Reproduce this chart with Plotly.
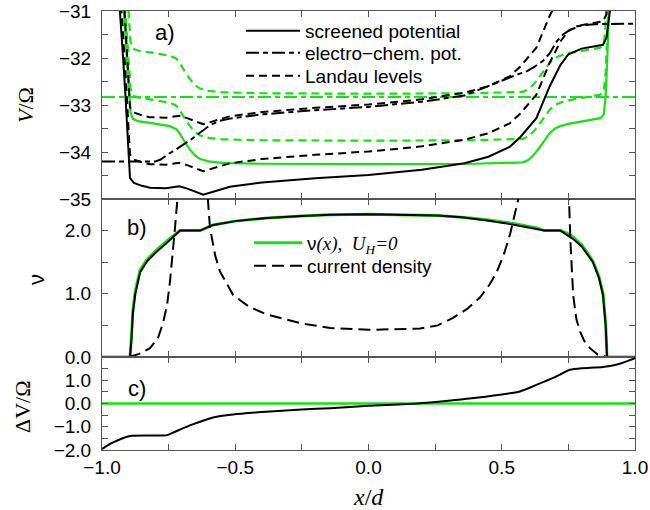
import plotly.graph_objects as go
from plotly.subplots import make_subplots

# ---------------- panel a) : potentials (black: with Hall voltage, green: U_H = 0)
x_Vb = [-0.945, -0.932, -0.922, -0.912, -0.903, -0.895, -0.88, -0.85, -0.82, -0.76, -0.71, -0.68,
        -0.62, -0.57, -0.52, -0.4, -0.2, 0.0, 0.2, 0.36, 0.45, 0.53, 0.57, 0.63, 0.68, 0.72, 0.75,
        0.8, 0.88, 0.893, 0.9, 0.906, 0.915]
V_black = [-30.0, -31.0, -31.9, -32.8, -33.9, -34.55, -34.66, -34.72, -34.76, -34.77, -34.73, -34.78,
           -34.91, -34.82, -34.74, -34.65, -34.56, -34.49, -34.38, -34.24, -34.1, -33.89, -33.68, -33.28,
           -32.6, -32.15, -31.92, -31.8, -31.72, -31.57, -31.3, -31.0, -30.3]
LL0_black = [-29.5, -30.5, -31.4, -32.3, -33.4, -34.05, -34.16, -34.22, -34.26, -34.27, -34.23, -34.28,
             -34.41, -34.32, -34.24, -34.15, -34.06, -33.99, -33.88, -33.74, -33.6, -33.39, -33.18, -32.78,
             -32.1, -31.65, -31.42, -31.3, -31.22, -31.07, -30.8, -30.5, -29.8]
LL1_black = [-28.5, -29.5, -30.4, -31.3, -32.4, -33.05, -33.16, -33.22, -33.26, -33.27, -33.23, -33.28,
             -33.41, -33.32, -33.24, -33.15, -33.06, -32.99, -32.88, -32.74, -32.6, -32.39, -32.18, -31.78,
             -31.1, -30.65, -30.42, -30.3, -30.22, -30.07, -29.8, -29.5, -28.8]

x_ecb = [-1.0, -0.8, -0.78, -0.756, -0.726, -0.696, -0.67, -0.644, -0.62, -0.595, -0.56, -0.52, -0.4,
         -0.2, 0.0, 0.2, 0.36, 0.49, 0.55, 0.595, 0.625, 0.655, 0.68, 0.707, 0.73, 0.756, 0.78, 0.805,
         0.85, 1.0]
ec_black = [-34.2, -34.2, -34.16, -34.06, -33.96, -33.85, -33.75, -33.64, -33.53, -33.43, -33.34, -33.29,
            -33.2, -33.11, -33.04, -32.93, -32.8, -32.5, -32.37, -32.28, -32.18, -32.06, -31.9, -31.64,
            -31.5, -31.4, -31.33, -31.3, -31.28, -31.27]

x_Vg = [-0.93, -0.918, -0.908, -0.9, -0.893, -0.884, -0.86, -0.82, -0.745, -0.72, -0.707, -0.69, -0.67,
        -0.65, -0.632, -0.6, -0.55, -0.4, 0.0, 0.4, 0.58, 0.6, 0.62, 0.64, 0.66, 0.68, 0.7, 0.72, 0.75,
        0.8, 0.87, 0.883, 0.89, 0.896, 0.902, 0.91]
V_green = [-30.0, -31.0, -32.0, -32.7, -33.15, -33.3, -33.35, -33.38, -33.45, -33.52, -33.62, -33.78,
           -33.95, -34.08, -34.15, -34.2, -34.23, -34.25, -34.26, -34.25, -34.22, -34.17, -34.06, -33.92,
           -33.77, -33.6, -33.5, -33.45, -33.4, -33.35, -33.28, -33.2, -32.8, -32.0, -31.0, -29.8]
LL0_green = [-29.5, -30.5, -31.5, -32.2, -32.65, -32.8, -32.85, -32.88, -32.95, -33.02, -33.12, -33.28,
             -33.45, -33.58, -33.65, -33.7, -33.73, -33.75, -33.76, -33.75, -33.72, -33.67, -33.56, -33.42,
             -33.27, -33.1, -33.0, -32.95, -32.9, -32.85, -32.78, -32.7, -32.3, -31.5, -30.5, -29.3]
LL1_green = [-28.5, -29.5, -30.5, -31.2, -31.65, -31.8, -31.85, -31.88, -31.95, -32.02, -32.12, -32.28,
             -32.45, -32.58, -32.65, -32.7, -32.73, -32.75, -32.76, -32.75, -32.72, -32.67, -32.56, -32.42,
             -32.27, -32.1, -32.0, -31.95, -31.9, -31.85, -31.78, -31.7, -31.3, -30.5, -29.5, -28.3]
x_ecg = [-1.0, 1.0]
ec_green = [-32.83, -32.83]

# ---------------- panel b) : filling factor and current density
x_nu = [-1.0, -0.895, -0.89, -0.884, -0.875, -0.857, -0.83, -0.794, -0.75, -0.72, -0.707, -0.632, -0.615,
        -0.583, -0.5, -0.38, -0.25, -0.144, 0.0, 0.257, 0.35, 0.445, 0.55, 0.632, 0.66, 0.72, 0.745,
        0.767, 0.8, 0.842, 0.865, 0.88, 0.89, 0.895, 1.0]
nu_green = [0, 0, 0.3, 0.75, 1.05, 1.38, 1.55, 1.7, 1.86, 1.96, 2.0, 2.0, 2.03, 2.09, 2.15, 2.2, 2.23,
            2.25, 2.26, 2.24, 2.21, 2.17, 2.11, 2.04, 2.0, 2.0, 1.96, 1.9, 1.78, 1.52, 1.27, 1.0, 0.52, 0, 0]
nu_black = [0, 0, 0.25, 0.7, 1.0, 1.34, 1.52, 1.67, 1.83, 1.94, 2.0, 2.0, 2.03, 2.09, 2.15, 2.2, 2.23,
            2.25, 2.26, 2.24, 2.21, 2.16, 2.09, 2.02, 2.0, 2.0, 1.93, 1.87, 1.75, 1.5, 1.25, 0.98, 0.5, 0, 0]

x_j = [-0.9, -0.86, -0.82, -0.79, -0.77, -0.755, -0.745, -0.735, -0.726, -0.715, -0.70, -0.62, -0.606,
       -0.595, -0.575, -0.557, -0.508, -0.45, -0.38, -0.25, -0.144, 0.0, 0.193, 0.26, 0.317, 0.37, 0.418,
       0.455, 0.482, 0.51, 0.531, 0.55, 0.565, 0.58, 0.74, 0.752, 0.758, 0.768, 0.78, 0.794, 0.81, 0.831,
       0.86, 0.895]
j_dens = [0, 0.05, 0.14, 0.3, 0.55, 0.85, 1.19, 1.6, 2.05, 2.6, 3.5, 3.5, 2.6, 2.05, 1.6, 1.35, 0.98, 0.8,
          0.67, 0.53, 0.46, 0.43, 0.45, 0.5, 0.62, 0.76, 0.94, 1.15, 1.35, 1.65, 1.94, 2.25, 2.55, 3.5, 3.5,
          2.55, 1.8, 0.98, 0.6, 0.4, 0.25, 0.14, 0.04, 0]

# ---------------- panel c) : Hall potential difference
x_dV = [-1.0, -0.97, -0.94, -0.895, -0.8, -0.756, -0.733, -0.66, -0.583, -0.508, -0.4, -0.25, -0.144,
        0.0, 0.182, 0.3, 0.445, 0.568, 0.63, 0.693, 0.756, 0.8, 0.88, 0.94, 1.0]
dV_black = [-1.96, -1.74, -1.58, -1.4, -1.38, -1.36, -1.25, -0.9, -0.6, -0.47, -0.37, -0.26, -0.2, -0.1,
            0.0, 0.12, 0.3, 0.52, 0.8, 1.1, 1.45, 1.52, 1.57, 1.7, 1.95]
x_dVg = [-1.0, 1.0]
dV_green = [0.0, 0.0]

# ---------------- tick labels
x_ticks = [-1.0, -0.75, -0.5, -0.25, 0.0, 0.25, 0.5, 0.75, 1.0]
x_ticktext = ["\u22121.0", " ", "\u22120.5", " ", "0.0", " ", "0.5", " ", "1.0"]
ya_ticks = [-35, -34.5, -34, -33.5, -33, -32.5, -32, -31.5, -31]
ya_ticktext = ["\u221235", " ", "\u221234", " ", "\u221233", " ", "\u221232", " ", "\u221231"]
yb_ticks = [0, 0.5, 1.0, 1.5, 2.0, 2.5]
yb_ticktext = ["0.0", " ", "1.0", " ", "2.0", " "]
yc_ticks = [-2.0, -1.5, -1.0, -0.5, 0.0, 0.5, 1.0, 1.5, 2.0]
yc_ticktext = ["\u22122.0", " ", "\u22121.0", " ", "0.0", " ", "1.0", " ", " "]

GREEN = "#16e016"
BLACK = "#000000"
SANS = "Liberation Sans, Arial, sans-serif"
SERIF = "Liberation Serif, Times New Roman, serif"

DASH_EC = "13px,4px,5px,4px"
DASH_LL = "8px,5px"
DASH_J = "12px,6px"

fig = make_subplots(rows=3, cols=1, shared_xaxes=True, vertical_spacing=0)

# panel a: green first
for yy in (LL0_green, LL1_green):
    fig.add_trace(go.Scatter(x=x_Vg, y=yy, mode="lines", line=dict(color=GREEN, width=2.2, dash=DASH_LL),
                             showlegend=False), row=1, col=1)
fig.add_trace(go.Scatter(x=x_ecg, y=ec_green, mode="lines", line=dict(color=GREEN, width=2.2, dash=DASH_EC),
                         showlegend=False), row=1, col=1)
fig.add_trace(go.Scatter(x=x_Vg, y=V_green, mode="lines", line=dict(color=GREEN, width=2.2),
                         showlegend=False), row=1, col=1)
# black
fig.add_trace(go.Scatter(x=x_Vb, y=V_black, mode="lines", line=dict(color=BLACK, width=2),
                         name="screened potential", legend="legend"), row=1, col=1)
fig.add_trace(go.Scatter(x=x_ecb, y=ec_black, mode="lines", line=dict(color=BLACK, width=2, dash=DASH_EC),
                         name="electro\u2212chem. pot.", legend="legend3"), row=1, col=1)
fig.add_trace(go.Scatter(x=x_Vb, y=LL0_black, mode="lines", line=dict(color=BLACK, width=2, dash=DASH_LL),
                         name="Landau levels", legend="legend4"), row=1, col=1)
fig.add_trace(go.Scatter(x=x_Vb, y=LL1_black, mode="lines", line=dict(color=BLACK, width=2, dash=DASH_LL),
                         showlegend=False), row=1, col=1)

# panel b
fig.add_trace(go.Scatter(x=x_nu, y=nu_green, mode="lines", line=dict(color=GREEN, width=3),
                         name="\u03bd<span style='font-family:Liberation Serif'><i>(x)</i>,  <i>U<sub>H</sub>=0</i></span>",
                         legend="legend2"), row=2, col=1)
fig.add_trace(go.Scatter(x=x_nu, y=nu_black, mode="lines", line=dict(color=BLACK, width=2),
                         showlegend=False), row=2, col=1)
fig.add_trace(go.Scatter(x=x_j, y=j_dens, mode="lines", line=dict(color=BLACK, width=2, dash=DASH_J),
                         name="current density", legend="legend5"), row=2, col=1)

# panel c
fig.add_trace(go.Scatter(x=x_dVg, y=dV_green, mode="lines", line=dict(color=GREEN, width=2.5),
                         showlegend=False), row=3, col=1)
fig.add_trace(go.Scatter(x=x_dV, y=dV_black, mode="lines",
                         line=dict(color=BLACK, width=2, shape="spline", smoothing=0.6),
                         showlegend=False), row=3, col=1)

# layout geometry given in window pixels (page margin removed below)
W, HT = 650, 510
X0, X1, Y0, Y1 = 102, 635, 11, 450          # plot area in window px
L, R, T, B = X0, W - X1, Y0, HT - Y1
H = HT - T - B
d_c = (Y1 - 357) / H
d_b = (Y1 - 199) / H

axis_common = dict(showline=True, linecolor="#555", linewidth=1, mirror="allticks", ticks="inside",
                   ticklen=6, tickwidth=1, tickcolor="#555", showgrid=False, zeroline=False,
                   automargin=False, tickfont=dict(family=SANS, size=19, color="black"))

for i in (1, 2, 3):
    fig.update_xaxes(range=[-1.0, 1.0], tickmode="array", tickvals=x_ticks, ticktext=x_ticktext,
                     **axis_common, row=i, col=1)
fig.update_xaxes(showticklabels=True, row=3, col=1)

fig.update_yaxes(range=[-35, -31], tickmode="array", tickvals=ya_ticks, ticktext=ya_ticktext,
                 domain=[d_b, 1.0], ticklabelstandoff=6, **axis_common, row=1, col=1)
fig.update_yaxes(range=[0, 2.5], tickmode="array", tickvals=yb_ticks, ticktext=yb_ticktext,
                 domain=[d_c, d_b], ticklabelstandoff=6, **axis_common, row=2, col=1)
fig.update_yaxes(range=[-2, 2], tickmode="array", tickvals=yc_ticks, ticktext=yc_ticktext,
                 domain=[0, d_c], ticklabelstandoff=6, **axis_common, row=3, col=1)

def px2x(px):
    return (px - X0) / (X1 - X0)

def py2y(py):
    return (Y1 - py) / (Y1 - Y0)

annots = [
    dict(text="a)", x=px2x(165), y=py2y(33), font=dict(family=SANS, size=22)),
    dict(text="b)", x=px2x(137), y=py2y(228), font=dict(family=SANS, size=22)),
    dict(text="c)", x=px2x(137), y=py2y(388), font=dict(family=SANS, size=22)),
    dict(text="<i>V</i>/\u03a9", x=px2x(25), y=py2y(105), textangle=-90, font=dict(family=SERIF, size=22)),
    dict(text="\u03bd", x=px2x(36), y=py2y(280), textangle=-90, font=dict(family=SANS, size=22)),
    dict(text="\u0394V/\u03a9", x=px2x(22), y=py2y(406), textangle=-90, font=dict(family=SERIF, size=22)),
    dict(text="<i>x</i>/<i>d</i>", x=px2x(368), y=py2y(497), font=dict(family=SERIF, size=24)),
]
for a in annots:
    a.update(xref="paper", yref="paper", showarrow=False, xanchor="center", yanchor="middle")
    a["font"]["color"] = "black"

def leg(px, py, iw):
    return dict(x=px2x(px), y=py2y(py), xanchor="left", yanchor="middle", bgcolor="rgba(0,0,0,0)",
                font=dict(family=SANS, size=19, color="black"), itemwidth=iw, tracegroupgap=0,
                borderwidth=0)

fig.update_layout(
    template="simple_white",
    width=W, height=HT, margin=dict(l=L, r=R, t=T, b=B, autoexpand=False),
    paper_bgcolor="white", plot_bgcolor="white",
    annotations=annots,
    legend=leg(241, 31, 54),
    legend3=leg(241, 53, 54),
    legend4=leg(241, 76, 54),
    legend2=leg(249, 243, 48),
    legend5=leg(249, 266, 48),
)

fig.write_html("out.html", config={"displayModeBar": False},
               post_script="document.body.style.margin='0px';document.body.style.overflow='hidden';")
